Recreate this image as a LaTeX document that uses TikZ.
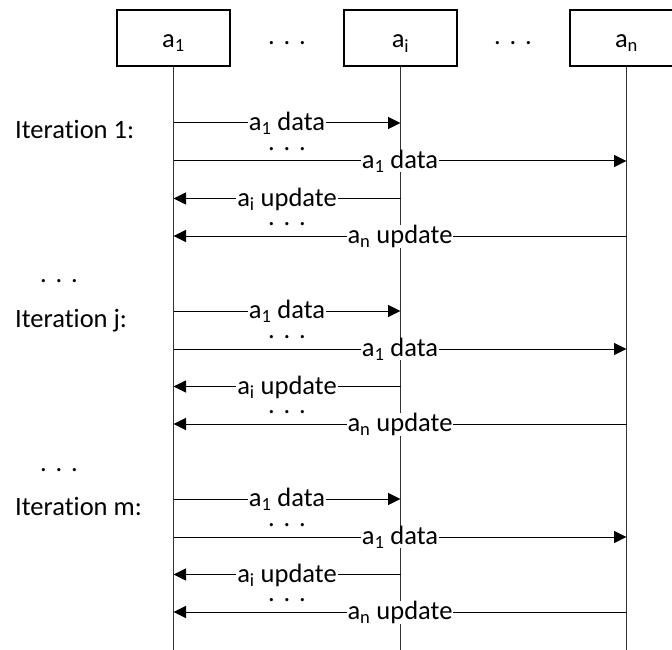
\documentclass[tikz,border=0pt]{standalone}
\usepackage{fontspec}
\setmainfont{Carlito}[Ligatures={NoCommon}]
\usetikzlibrary{arrows.meta}
\tikzset{
  actor/.style={draw=black, line width=1.3pt, minimum width=113pt, minimum height=56pt, inner sep=0pt},
  life/.style={line width=1pt, draw=black!80},
  msg/.style={line width=1pt, -{Triangle[length=12.5pt,width=12pt]}},
  lbl/.style={midway, anchor=base, yshift=-7.5pt, fill=white, inner xsep=1pt, inner ysep=0pt},
  txt/.style={inner sep=0pt, anchor=base},
  itlbl/.style={inner sep=0pt, anchor=base west},
}
\begin{document}
\begin{tikzpicture}[x=1pt, y=-1pt, font=\fontsize{26.5}{31}\selectfont]
\useasboundingbox (0,0) rectangle (672,650);
% actors
\node[actor] (A1) at (173.5,38) {};
\node[actor] (Ai) at (400.5,38) {};
\node[actor] (An) at (626.5,38) {};
\node[txt] (A1t) at (173.5,48) {a\textsubscript{1}};
\node[txt] (Ait) at (400.5,48) {a\textsubscript{i}};
\node[txt] (Ant) at (626.5,48) {a\textsubscript{n}};
\node[txt] (top1) at (287,45) {.\,\,.\,\,.};
\node[txt] (top2) at (513,45) {.\,\,.\,\,.};
% lifelines
\coordinate (A1b) at (173.5,650);
\coordinate (Aib) at (400.5,650);
\coordinate (Anb) at (626.5,650);
\draw[life] (A1.south) -- (A1b);
\draw[life] (Ai.south) -- (Aib);
\draw[life] (An.south) -- (Anb);
% left dots
\node[txt] (ld1) at (59,282) {.\,\,.\,\,.};
\node[txt] (ld2) at (59,471) {.\,\,.\,\,.};
% iterations
\foreach \o/\k/\t in {0/1/1, 188/2/j, 376/3/m} {
  \begin{scope}[yshift=-\o pt]
    \node[itlbl] (it\k) at (15,139) {Iteration \t:};
    \draw[msg] (A1.south |- 0,123) -- node[lbl] (da\k) {a\textsubscript{1} data} (Ai.south |- 0,123);
    \node[txt] (dd\k) at (287,150) {.\,\,.\,\,.};
    \draw[msg] (A1.south |- 0,161) -- node[lbl] (db\k) {a\textsubscript{1} data} (An.south |- 0,161);
    \draw[msg] (Ai.south |- 0,198.5) -- node[lbl] (ua\k) {a\textsubscript{i} update} (A1.south |- 0,198.5);
    \node[txt] (ud\k) at (287,225) {.\,\,.\,\,.};
    \draw[msg] (An.south |- 0,236) -- node[lbl] (ub\k) {a\textsubscript{n} update} (A1.south |- 0,236);
  \end{scope}
}
\end{tikzpicture}
\end{document}
